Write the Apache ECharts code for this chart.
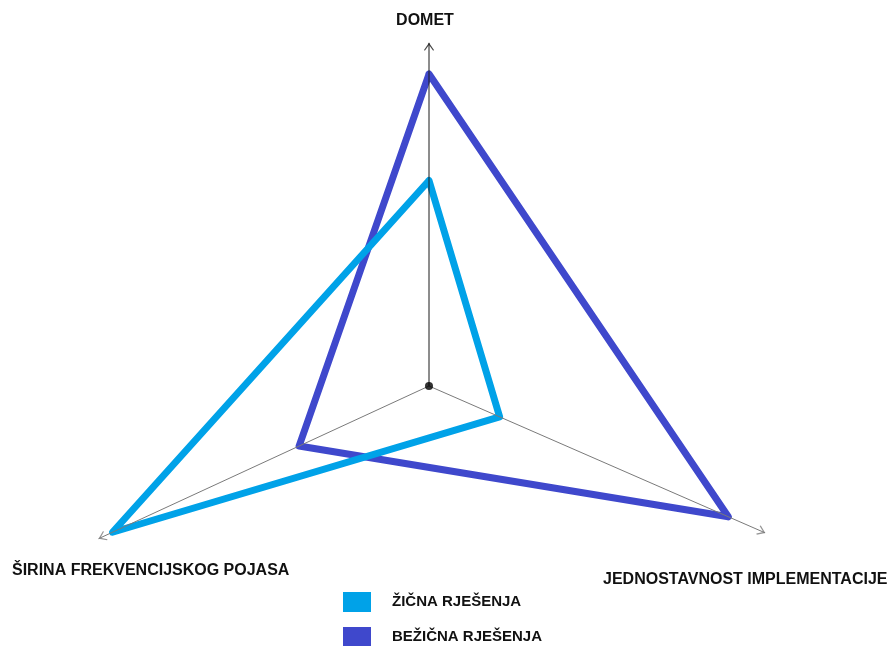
<!DOCTYPE html>
<html><head><meta charset="utf-8">
<script src="https://cdn.jsdelivr.net/npm/echarts@6/dist/echarts.min.js"></script>
<style>html,body{margin:0;padding:0;background:#fff}#c{width:896px;height:646px}</style>
</head><body><div id="c"></div>
<script>
// ---- data ----
const categories = ['DOMET', 'JEDNOSTAVNOST IMPLEMENTACIJE', 'ŠIRINA FREKVENCIJSKOG POJASA'];
const seriesNames = ['ŽIČNA RJEŠENJA', 'BEŽIČNA RJEŠENJA'];
const zicna = [56, 21, 95];
const bezicna = [85, 89, 39];

// ---- layout (axis directions and extents) ----
const axisAngles = [90, 336.4, 204.8];
const axisLengths = [93.5, 100, 99.2];
const colors = ['#00A2E8', '#3F48CC'];
const R_PX = 367, R_MAX = 100;
const arrowBack = 4 / (R_PX / R_MAX);
const chevron = 'path://M0,0 L6,8 L5,9 L0,2.5 L-5,9 L-6,8 Z';

function ring(vals) {
  const pts = vals.map((v, i) => [v, axisAngles[i]]);
  return pts.concat([pts[0], pts[1]]);
}

const chart = echarts.init(document.getElementById('c'), null, {renderer: 'canvas'});
const series = [];
// polygons (dark first, light on top)
[[1, bezicna], [0, zicna]].forEach(([k, vals]) => {
  series.push({
    name: seriesNames[k], type: 'line', coordinateSystem: 'polar',
    data: ring(vals), symbol: 'none', smooth: false, z: 2 + (1 - k),
    itemStyle: {color: colors[k]},
    lineStyle: {color: colors[k], width: 7, join: 'round', cap: 'round'},
    animation: false, silent: true
  });
});
// axes
axisAngles.forEach((a, i) => {
  const col = i === 0 ? '#1a1a1a' : '#7a7a7a';
  series.push({
    type: 'line', coordinateSystem: 'polar', symbol: 'none', z: 5,
    data: [[0, a], [axisLengths[i], a]],
    lineStyle: {color: col, width: 1}, animation: false, silent: true
  });
  series.push({
    type: 'scatter', coordinateSystem: 'polar', z: 5,
    symbol: chevron, symbolSize: [10, 8],
    data: [{value: [axisLengths[i] - arrowBack, a], symbolRotate: a - 90}],
    itemStyle: {color: col}, animation: false, silent: true
  });
});
series.push({
  type: 'scatter', coordinateSystem: 'polar', z: 6, symbol: 'circle', symbolSize: 8,
  data: [[0, 0]], itemStyle: {color: '#000'}, animation: false, silent: true
});

const labelFont = 'bold 16px "Liberation Sans", Arial, sans-serif';
chart.setOption({
  backgroundColor: '#fff',
  animation: false,
  polar: {center: [429, 386], radius: R_PX},
  angleAxis: {type: 'value', min: 0, max: 360, startAngle: 0, clockwise: false, show: false},
  radiusAxis: {type: 'value', min: 0, max: R_MAX, show: false},
  legend: {
    data: seriesNames, orient: 'vertical', left: 343, top: 592, height: 120,
    itemWidth: 28, itemHeight: 20, itemGap: 15, icon: 'rect', padding: 0,
    textStyle: {fontFamily: '"Liberation Sans", Arial, sans-serif', fontWeight: 'bold', fontSize: 15, color: '#111', padding: [0, 0, 0, 16]}
  },
  graphic: [
    {type: 'text', style: {text: categories[0], x: 425, y: 21, font: labelFont, fill: '#111', textAlign: 'center', textVerticalAlign: 'middle'}},
    {type: 'text', style: {text: categories[2], x: 12, y: 571, font: labelFont, fill: '#111', textAlign: 'left', textVerticalAlign: 'middle'}},
    {type: 'text', style: {text: categories[1], x: 603, y: 580, font: labelFont, fill: '#111', textAlign: 'left', textVerticalAlign: 'middle'}}
  ],
  series: series
});
</script>
</body></html>
